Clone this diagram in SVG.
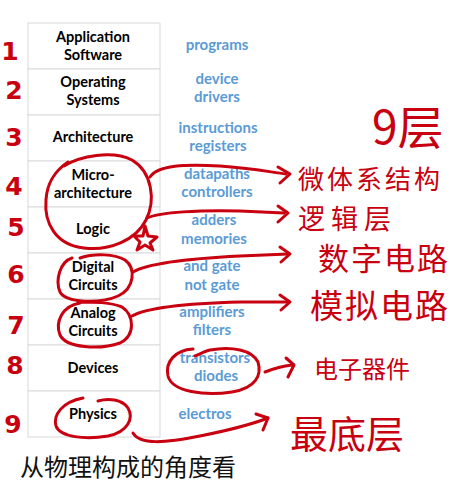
<svg xmlns="http://www.w3.org/2000/svg" width="472" height="490" viewBox="0 0 472 490">
<style>
.row{fill:#fff;stroke:#d9d9d9;stroke-width:1}
.lbl{font-family:Lato,"Liberation Sans",sans-serif;font-weight:700;font-size:14.5px;fill:#000;text-anchor:middle}
.blue{font-family:Lato,"Liberation Sans",sans-serif;font-weight:700;font-size:15px;fill:#5b9bd5;text-anchor:middle}
.ink{fill:none;stroke:#c8000f;stroke-width:3;stroke-linecap:round;stroke-linejoin:round}
.num{font-family:"DejaVu Sans",sans-serif;font-weight:700;font-size:25px;fill:#c8000f;text-anchor:middle}
.hw{font-family:"Noto Sans CJK SC","Noto Sans CJK JP",sans-serif;fill:#c8000f}
.cap{font-family:"Noto Sans CJK SC","Noto Sans CJK JP",sans-serif;font-size:24px;fill:#111}
</style>
<rect width="472" height="490" fill="#fff"/>
<g id="stack">
<g id="app"><rect class="row" x="28" y="23" width="132" height="46"/><text class="lbl" x="93" y="42">Application</text><text class="lbl" x="93" y="60">Software</text><text class="blue" x="217" y="50">programs</text></g>
<g id="os"><rect class="row" x="28" y="69" width="132" height="46"/><text class="lbl" x="93" y="87">Operating</text><text class="lbl" x="93" y="105">Systems</text><text class="blue" x="217" y="84">device</text><text class="blue" x="217" y="102">drivers</text></g>
<g id="arch"><rect class="row" x="28" y="115" width="132" height="46"/><text class="lbl" x="93" y="142">Architecture</text><text class="blue" x="218" y="133">instructions</text><text class="blue" x="218" y="151">registers</text></g>
<g id="micro"><rect class="row" x="28" y="161" width="132" height="46"/><text class="lbl" x="93" y="180">Micro-</text><text class="lbl" x="93" y="198">architecture</text><text class="blue" x="217" y="179">datapaths</text><text class="blue" x="217" y="197">controllers</text></g>
<g id="logic"><rect class="row" x="28" y="207" width="132" height="46"/><text class="lbl" x="93" y="234">Logic</text><text class="blue" x="214" y="225">adders</text><text class="blue" x="214" y="244">memories</text></g>
<g id="digital"><rect class="row" x="28" y="253" width="132" height="46"/><text class="lbl" x="93" y="272">Digital</text><text class="lbl" x="93" y="290">Circuits</text><text class="blue" x="212" y="271">and  gate</text><text class="blue" x="212" y="290">not gate</text></g>
<g id="analog"><rect class="row" x="28" y="299" width="132" height="46"/><text class="lbl" x="93" y="318">Analog</text><text class="lbl" x="93" y="336">Circuits</text><text class="blue" x="212" y="317">amplifiers</text><text class="blue" x="212" y="335">filters</text></g>
<g id="devices"><rect class="row" x="28" y="345" width="132" height="46"/><text class="lbl" x="93" y="373">Devices</text><text class="blue" x="215" y="363">transistors</text><text class="blue" x="216" y="381">diodes</text></g>
<g id="physics"><rect class="row" x="28" y="391" width="132" height="46"/><text class="lbl" x="93" y="419">Physics</text><text class="blue" x="205" y="419">electros</text></g>
</g>
<g id="numbers">
<text class="num" x="10" y="60">1</text>
<text class="num" x="14" y="99">2</text>
<text class="num" x="14" y="146">3</text>
<text class="num" x="14" y="195">4</text>
<text class="num" x="16" y="236">5</text>
<text class="num" x="16" y="283">6</text>
<text class="num" x="16" y="334">7</text>
<text class="num" x="15" y="374">8</text>
<text class="num" x="13" y="433">9</text>
</g>
<g id="notes">
<text class="hw" x="372" y="144" font-size="46">9层</text>
<text class="hw" x="298" y="189" font-size="26" letter-spacing="3">微体系结构</text>
<text class="hw" x="298" y="229" font-size="27" letter-spacing="6">逻辑层</text>
<text class="hw" x="318" y="270" font-size="31" letter-spacing="2">数字电路</text>
<text class="hw" x="310" y="318" font-size="33" letter-spacing="2">模拟电路</text>
<text class="hw" x="314" y="378" font-size="24">电子器件</text>
<text class="hw" x="290" y="448" font-size="38">最底层</text>
</g>
<g id="connectors">
<path class="ink" d="M64 166 C80 156,112 150,132 160 C152 172,156 200,146 220 C136 240,110 251,84 248 C55 245,44 222,46 200 C47 182,55 171,68 162"/>
<path class="ink" d="M150 177 C158 165,185 164,220 166 C250 168,270 172,286 174"/>
<path class="ink" d="M278 167 L290 174 L280 183"/>
<path class="ink" d="M147 218 C160 212,200 210,240 211 L284 213"/>
<path class="ink" d="M278 206 L288 213 L278 222"/>
<path class="ink" d="M145 226 L148 236 L157 237 L150 243 L153 250 L145 245 L137 250 L140 242 L134 236 L143 236 Z" stroke-width="2.5"/>
<path class="ink" d="M72 258 C60 262,55 280,60 292 C66 303,100 304,118 296 C135 288,136 268,125 260 C115 254,95 253,80 258"/>
<path class="ink" d="M133 272 C150 262,200 258,240 256 L288 254"/>
<path class="ink" d="M280 247 L290 254 L281 262"/>
<path class="ink" d="M80 303 C62 306,55 322,60 335 C66 348,100 350,120 343 C136 335,134 315,122 307 C110 302,95 302,78 302"/>
<path class="ink" d="M132 316 C150 306,200 303,240 302 L288 302"/>
<path class="ink" d="M280 295 L290 302 L281 310"/>
<path class="ink" d="M193 349 C175 350,165 362,168 376 C172 392,205 396,232 392 C256 388,262 375,258 362 C252 350,232 346,210 350 C205 351,200 354,195 356"/>
<path class="ink" d="M265 372 C275 368,283 366,292 365"/>
<path class="ink" d="M286 358 L294 365 L288 377"/>
<path class="ink" d="M83 398 C62 402,53 415,56 426 C60 437,85 440,108 436 C128 432,134 418,128 408 C122 399,108 398,98 401"/>
<path class="ink" d="M133 433 C140 445,165 443,200 436 C230 430,250 425,268 418" stroke-width="3.5"/>
<path class="ink" d="M256 414 L268 418 L263 430" stroke-width="3.5"/>
</g>
<text id="caption" class="cap" x="20" y="476">从物理构成的角度看</text>
</svg>
